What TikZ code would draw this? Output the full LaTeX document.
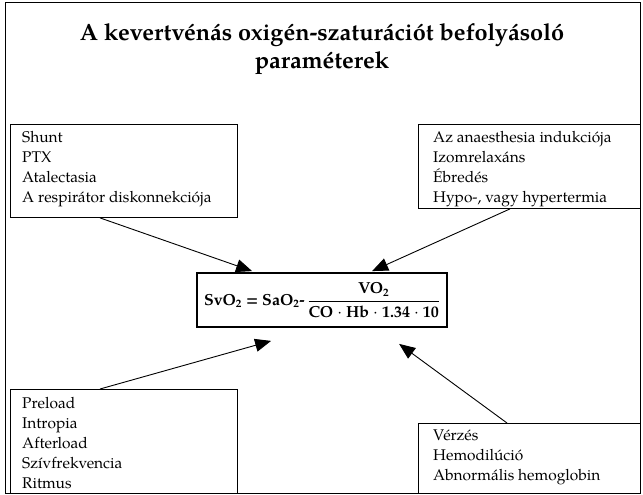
\documentclass[tikz,border=0pt]{standalone}
\usepackage{amsmath}
\usepackage{fontspec}
\setmainfont{TeX Gyre Pagella}
\usetikzlibrary{arrows.meta,calc}

\tikzset{
  factorbox/.style={draw, line width=0.9pt, rectangle, inner sep=0pt, anchor=north west},
  factortext/.style={anchor=north west, inner sep=0pt, align=left,
    font=\fontsize{15.5}{20}\selectfont},
  formulabox/.style={draw, line width=1.8pt, rectangle, minimum width=250, minimum height=54, inner sep=0pt},
  influence/.style={line width=0.9pt, -{Triangle[length=16pt,width=13pt]}}
}

\begin{document}
\begin{tikzpicture}[x=1pt,y=-1pt]
\useasboundingbox (0,0) rectangle (643,495);

% outer frame
\draw[line width=1pt] (5,3) rectangle (640,493);

% heading
\node[align=center, font=\bfseries\fontsize{23.5}{28}\selectfont] (title) at (322,49)
  {A kevertvénás oxigén-szaturációt befolyásoló\\paraméterek};

% factor boxes
\node[factorbox, minimum width=227, minimum height=93] (tl) at (10,124) {};
\node[factortext] (tltext) at ($(tl.north west)+(12,7)$)
  {Shunt\\PTX\\Atalectasia\\A respirátor diskonnekciója};

\node[factorbox, minimum width=222, minimum height=84] (tr) at (418,124) {};
\node[factortext] (trtext) at ($(tr.north west)+(15,7)$)
  {Az anaesthesia indukciója\\Izomrelaxáns\\Ébredés\\Hypo-, vagy hypertermia};

\node[factorbox, minimum width=227, minimum height=104] (bl) at (10,389) {};
\node[factortext] (bltext) at ($(bl.north west)+(12,8)$)
  {Preload\\Intropia\\Afterload\\Szívfrekvencia\\Ritmus};

\node[factorbox, minimum width=222, minimum height=70] (br) at (418,423) {};
\node[factortext] (brtext) at ($(br.north west)+(15,7)$)
  {Vérzés\\Hemodilúció\\Abnormális hemoglobin};

% central formula
\node[formulabox] (f) at (322,300)
  {\bfseries\fontsize{16}{18}\selectfont SvO\textsubscript{2} = SaO\textsubscript{2}-\,%
   $\dfrac{\text{\bfseries VO\textsubscript{2}}}{\text{\bfseries CO $\cdot$ Hb $\cdot$ 1.34 $\cdot$ 10}}$};

% connectors
\coordinate (tlend) at ($(f.north west)+(56,-1)$);
\coordinate (trend) at ($(f.north west)+(176,-1)$);
\coordinate (blend) at ($(f.south west)+(75,13)$);
\coordinate (brend) at ($(f.south west)+(203,16)$);
\draw[influence] ($(tl.south west)+(90,0)$) -- (tlend);
\draw[influence] ($(tr.south west)+(92,0)$) -- (trend);
\draw[influence] ($(bl.north west)+(90,0)$) -- (blend);
\draw[influence] ($(br.north west)+(89,0)$) -- (brend);
\end{tikzpicture}
\end{document}
